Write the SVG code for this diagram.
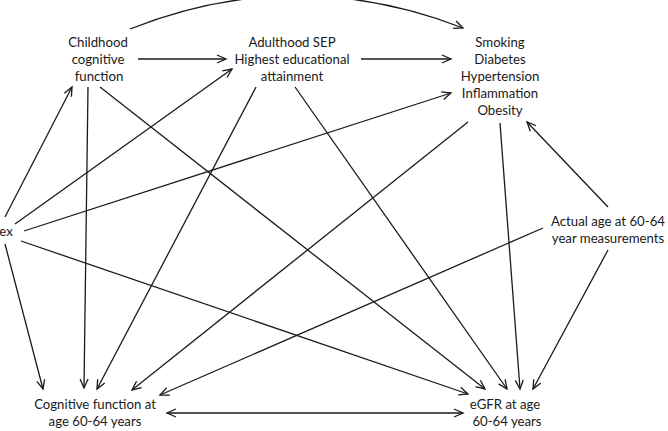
<svg xmlns="http://www.w3.org/2000/svg" width="668" height="431" viewBox="0 0 668 431">
  <style>
    .lbl { font-family: Lato, "Open Sans", "Liberation Sans", sans-serif; font-size: 13.2px; fill: #1a1a1a; text-anchor: middle; dominant-baseline: central; }
    .edge { fill: none; stroke: #1a1a1a; stroke-width: 1.3; marker-end: url(#arrow); }
  </style>
  <defs>
    <marker id="arrow" viewBox="-10 -5 12 10" refX="0" refY="0" markerWidth="12" markerHeight="10" markerUnits="userSpaceOnUse" orient="auto-start-reverse">
      <path d="M-9,-4 L0,0 L-9,4" fill="none" stroke="#1a1a1a" stroke-width="1.3"/>
    </marker>
  </defs>
  <rect width="668" height="431" fill="#ffffff"/>

  <g id="connectors">
    <!-- childhood cognition to risk factors (arc over the top) -->
    <path class="edge" d="M130,29 Q296,-37 463,28"/>
    <!-- horizontal chain along the top row -->
    <path class="edge" d="M138,59 L226,59"/>
    <path class="edge" d="M361,59 L451,59"/>
    <!-- from childhood cognitive function -->
    <path class="edge" d="M88,87 L84,388"/>
    <path class="edge" d="M100,87 L485,389"/>
    <!-- from adulthood SEP -->
    <path class="edge" d="M256,87 L97,389"/>
    <path class="edge" d="M295,87 L507,389"/>
    <!-- from risk factors -->
    <path class="edge" d="M468,122 L132,390"/>
    <path class="edge" d="M500,123 L520,389"/>
    <!-- from sex -->
    <path class="edge" d="M5,217 L72,87"/>
    <path class="edge" d="M15,224 L232,69"/>
    <path class="edge" d="M24,231 L451,93"/>
    <path class="edge" d="M21,241 L468,394"/>
    <path class="edge" d="M5,244 L43,389"/>
    <!-- from actual age -->
    <path class="edge" d="M608,207 L527,122"/>
    <path class="edge" d="M543,228 L160,395"/>
    <path class="edge" d="M608,250 L533,389"/>
    <!-- two-way link between outcomes -->
    <path class="edge" d="M167,413 L463,413" marker-start="url(#arrow)"/>
  </g>

  <g id="childhood-cognition">
    <text class="lbl" x="98" y="42">Childhood</text>
    <text class="lbl" x="98" y="59">cognitive</text>
    <text class="lbl" x="99" y="76">function</text>
  </g>
  <g id="adulthood-sep">
    <text class="lbl" x="292" y="42">Adulthood SEP</text>
    <text class="lbl" x="292" y="59">Highest educational</text>
    <text class="lbl" x="292" y="76">attainment</text>
  </g>
  <g id="risk-factors">
    <text class="lbl" x="500" y="42">Smoking</text>
    <text class="lbl" x="500" y="59">Diabetes</text>
    <text class="lbl" x="500" y="76">Hypertension</text>
    <text class="lbl" x="500" y="93">Inflammation</text>
    <text class="lbl" x="500" y="110">Obesity</text>
  </g>
  <g id="sex">
    <text class="lbl" x="6" y="231">ex</text>
  </g>
  <g id="actual-age">
    <text class="lbl" x="608" y="221">Actual age at 60-64</text>
    <text class="lbl" x="608" y="238">year measurements</text>
  </g>
  <g id="cognition-60-64">
    <text class="lbl" x="95" y="404">Cognitive function at</text>
    <text class="lbl" x="95" y="421">age 60-64 years</text>
  </g>
  <g id="egfr-60-64">
    <text class="lbl" x="505" y="404">eGFR at age</text>
    <text class="lbl" x="507" y="421">60-64 years</text>
  </g>
</svg>
